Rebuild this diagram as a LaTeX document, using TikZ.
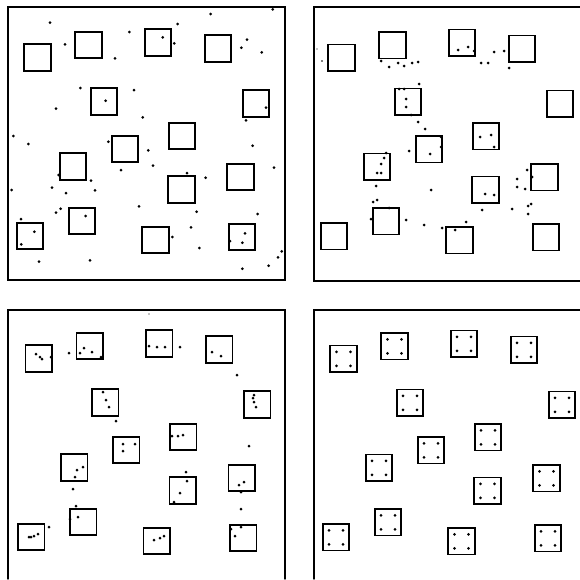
\documentclass[tikz,border=0pt]{standalone}
\usetikzlibrary{calc}
\tikzset{
  frame/.style={line width=1.4pt, line cap=round},
  cell/.style={draw, line width=1.7pt, minimum size=26.5pt, inner sep=0pt},
}
% square centres, the same in all four panels
\newcommand{\cellpos}{29.5/50.5, 80.5/38, 150/35.5, 210/41.5, 96/94.5, 248/96.5,
  174/129, 117/142, 65/159.5, 232.5/170, 173.5/182.5, 74/214, 22/229, 147.5/233, 234/230}
\newcommand{\dotr}{1.5pt}

\begin{document}
\begin{tikzpicture}[x=1pt, y=-1pt]
  \fill[white] (0,0) rectangle (580,579);
  \useasboundingbox (0,0) rectangle (580,579);

  % Frames
  \draw[frame] (8,7) rectangle (285,280);
  \draw[frame] (580,7) -- (314,7) -- (314,281) -- (580,281);
  \draw[frame] (8,579) -- (8,310) -- (285,310) -- (285,579);
  \draw[frame] (580,310) -- (314,310) -- (314,579);

  % Top left
  \begin{scope}[shift={(8,7)}]
    \foreach \x/\y [count=\i] in \cellpos
      \node[cell] (A\i) at (\x,\y) {};
  \end{scope}
  \foreach \p in {(50,22.7),(210.7,14),(177.7,24),(129.3,32),(162.7,37.3),(174.3,43.3),
      (65,44.3),(247,39.7),(241.3,47.7),(261.7,52.3),(115,58.3),(80.3,88),(134,90),
      (105.7,100.7),(56,108.7),(266,107.7),(142.7,117.3),(246,120.3),(13.3,136),(28.3,144),
      (108.3,141.7),(252.7,145.7),(148.3,150.3),(153,165.7),(121,170),(274,167.7),(58.7,175),
      (187,173),(205.7,177.7),(91,180.7),(11.7,190),(52,187.7),(66,193),(95,190.3),(139,206.3),
      (60.7,208.7),(56,212.7),(196.7,211.7),(85.7,216),(257.7,214),(21,219),(34.3,231.7),
      (191,227.3),(245,233.3),(21.3,244.3),(172.3,237),(230,241),(242.3,242.7),(199.3,248),
      (281.7,251.3),(278,257.3),(39,261.7),(90,260.3),(268.7,265.7),(242.3,268.7),(272.7,9.3)}
    \fill \p circle (\dotr);

  % Top right
  \begin{scope}[shift={(312,7.3)}]
    \foreach \x/\y [count=\i] in \cellpos
      \node[cell] (B\i) at (\x,\y) {};
  \end{scope}
  \foreach \p in {(381,61),(389,67),(398,63),(404,66),(412,63),(418,62),(458,50),(468,47),
      (474,51),(481,63),(488,63),(494,52),(504,51),(509,68),(419,84),(399,89),(404,89),
      (406,99),(406,107),(411,115),(418,122),(425,129),(441,137),(441,147),(430,154),(409,151),
      (480,137),(491,135),(494,147),(386,153),(384,158),(381,164),(377,173),(381,173),(376,186),
      (431,190),(527,170),(532,177),(517,179),(517,187),(525,189),(485,194),(494,195),(373,202),
      (377,200),(389,208),(371,219),(406,220),(424,225),(442,228),(455,230),(466,222),(482,210),
      (512,209),(528,206),(531,204),(528,214)}
    \fill \p circle (\dotr);
  \fill (317,49) circle (0.7pt);
  \fill (322,61) circle (0.9pt);

  % Bottom left
  \begin{scope}[shift={(9.3,308)}]
    \foreach \x/\y [count=\i] in \cellpos
      \node[cell] (C\i) at (\x,\y) {};
  \end{scope}
  \foreach \p in {(36,354),(40,357),(42,359),(51,357),(69,353),(80,353),(84,348),(92,352),
      (101,357),(149,346),(157,347),(165,347),(180,347),(212,352),(221,356),(237,375),
      (103,392),(106,400),(109,407),(116,421),(254,395),(253,398),(254,402),(256,407),
      (172,436),(178,436),(183,435),(123,444),(135,444),(123,451),(249,446),(83,467),(77,470),
      (75,477),(186,472),(187,481),(180,493),(174,502),(244,482),(239,485),(241,492),(73,489),
      (241,509),(76,506),(78,517),(70,519),(49,527),(29,537),(31,537),(34,536),(38,534),
      (154,540),(160,538),(164,536),(231,529),(235,536),(241,527)}
    \fill \p circle (\dotr);
  \fill (149,314) circle (0.7pt);

  % Bottom right: four dots in every square
  \begin{scope}[shift={(314,308.3)}]
    \foreach \x/\y [count=\i] in \cellpos {
      \node[cell] (D\i) at (\x,\y) {};
      \foreach \dx in {-7,7}
        \foreach \dy in {-7,7}
          \fill ([shift={(\dx,\dy)}]D\i) circle (\dotr);
    }
  \end{scope}
\end{tikzpicture}
\end{document}
